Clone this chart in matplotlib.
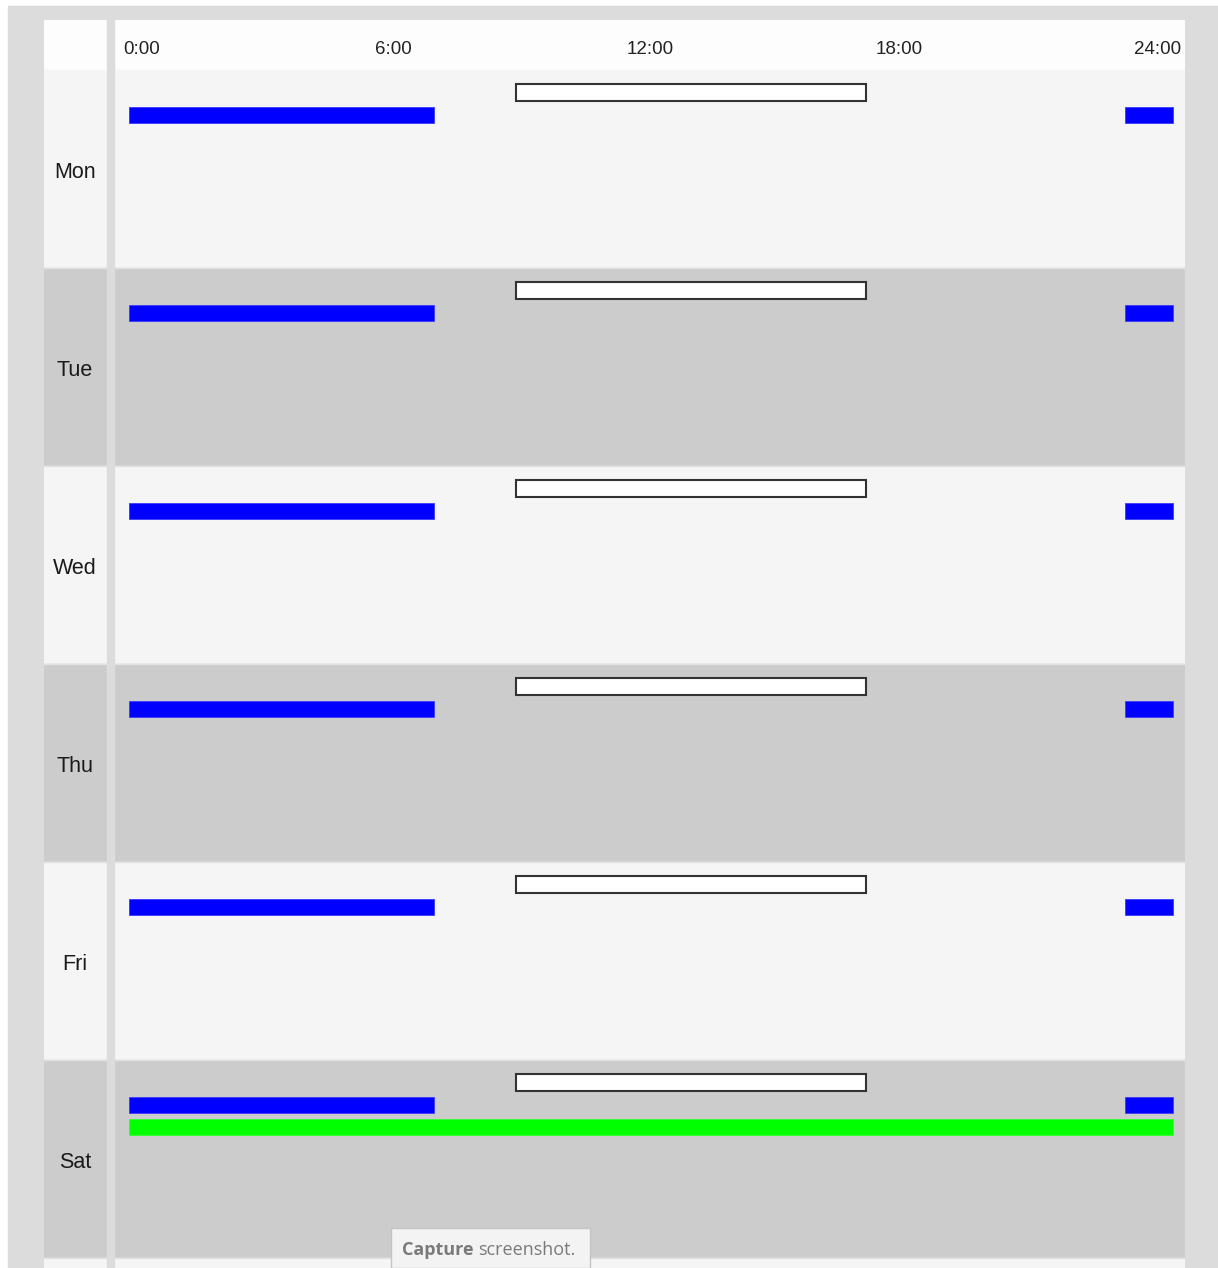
import matplotlib.pyplot as plt
from matplotlib.patches import Rectangle

plt.rcParams['font.family'] = ['Liberation Sans', 'DejaVu Sans']

# schedule data (hours)
days = ['Mon', 'Tue', 'Wed', 'Thu', 'Fri', 'Sat', 'Sun']
blue_start = [0, 0, 0, 0, 0, 0]
blue_end = [7, 7, 7, 7, 7, 7]
blue2_start = [22.9, 22.9, 22.9, 22.9, 22.9, 22.9]
blue2_end = [24, 24, 24, 24, 24, 24]
white_start = [8.9, 8.9, 8.9, 8.9, 8.9, 8.9]
white_end = [16.95, 16.95, 16.95, 16.95, 16.95, 16.95]
green_days = ['Sat']
green_start = [0]
green_end = [24]
tick_labels = ['0:00', '6:00', '12:00', '18:00', '24:00']

W, H = 1218, 1268
fig = plt.figure(figsize=(W / 100, H / 100), dpi=100)
fig.patch.set_facecolor('white')

# gray outer frame
fig.add_artist(Rectangle((8 / W, 0), (W - 8) / W, (H - 6) / H,
                         transform=fig.transFigure, color='#dcdcdc', zorder=0))

# pixel layout
px_per_h = 43.5
x0 = 129            # pixel x of 0:00
left, right = 44, 1185
top = 20
row_h = 198
head_h = 50

ax = fig.add_axes([left / W, 0, (right - left) / W, (H - top) / H])
ax.set_xlim((left - x0) / px_per_h, (right - x0) / px_per_h)
ax.set_ylim((H - top - head_h) / row_h, -head_h / row_h)
ax.axis('off')

# header
ax.axhspan(-head_h / row_h, 0, color='#fdfdfd', zorder=0)

# row backgrounds
for i, d in enumerate(days):
    col = '#f5f5f5' if i % 2 == 0 else '#cccccc'
    ax.axhspan(i, i + 1, color=col, zorder=0)
    if i > 0:
        ax.axhline(i, color='#e2e2e2', lw=1, zorder=0.5)
    if i < 6:
        ax.text((75 - x0) / px_per_h, i + 0.5 + 3 / row_h, d, ha='center',
                va='center', fontsize=15.5, color='#1a1a1a', clip_on=True)

# separator between label column and timeline
ax.axvspan((107 - x0) / px_per_h, (114 - x0) / px_per_h, color='#dcdcdc', zorder=1)

# time labels in header
label_x = [123, 375, 627, 876, 1181]
for lx, t in zip(label_x, tick_labels):
    ha = 'right' if t == '24:00' else 'left'
    ax.text((lx - x0) / px_per_h, -21 / row_h, t, ha=ha, va='center',
            fontsize=13.5, color='#222222')

n = len(blue_start)
ys = list(range(n))
white_off, blue_off, green_off = 22 / row_h, 45 / row_h, 67 / row_h
bh = 16 / row_h

ax.barh([y + white_off for y in ys], [e - s for s, e in zip(white_start, white_end)],
        left=white_start, height=17 / row_h, color='white', edgecolor='#333333',
        linewidth=1.5, zorder=3)
ax.barh([y + blue_off for y in ys], [e - s for s, e in zip(blue_start, blue_end)],
        left=blue_start, height=bh, color='#0000ff', edgecolor='#3a3aff',
        linewidth=0.6, zorder=3)
ax.barh([y + blue_off for y in ys], [e - s for s, e in zip(blue2_start, blue2_end)],
        left=blue2_start, height=bh, color='#0000ff', edgecolor='#3a3aff',
        linewidth=0.6, zorder=3)
gy = [days.index(d) + green_off for d in green_days]
ax.barh(gy, [e - s for s, e in zip(green_start, green_end)], left=green_start,
        height=bh, color='#00ff00', edgecolor='#33ff33', linewidth=0.6, zorder=3)

# tooltip
fig.add_artist(Rectangle((391 / W, 0), 199 / W, 40 / H, transform=fig.transFigure,
                         facecolor='#f3f3f3', edgecolor='#c4c4c4', lw=1, zorder=5))
t1 = fig.text(402 / W, 1 - 1250 / H, 'Capture', fontsize=13, fontweight='bold',
              color='#7a7a7a', va='center', ha='left', zorder=6,
              family=['Open Sans', 'DejaVu Sans'])
fig.canvas.draw()
bb = t1.get_window_extent()
fig.text((bb.x1 + 5) / W, 1 - 1250 / H, 'screenshot.', fontsize=13,
         color='#7a7a7a', va='center', ha='left', zorder=6,
         family=['Open Sans', 'DejaVu Sans'])

fig.savefig('out.png', dpi=100)
